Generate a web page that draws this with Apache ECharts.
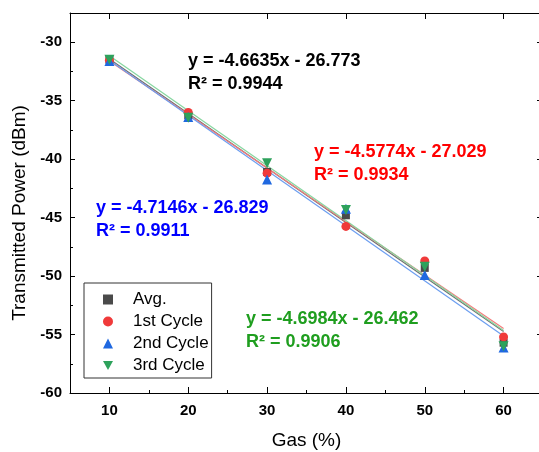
<!DOCTYPE html>
<html>
<head>
<meta charset="utf-8">
<script src="https://cdn.jsdelivr.net/npm/echarts@6/dist/echarts.min.js"></script>
<style>
  html, body { margin: 0; padding: 0; background: #fff; }
  #chart { width: 539px; height: 452px; }
</style>
</head>
<body>
<div id="chart"></div>
<script>
// measured points
const gas = [10, 20, 30, 40, 50, 60];
const avgPower = [-31.5, -36.25, -41.1, -44.8, -49.3, -55.7];
const cycle1Power = [-31.55, -36.0, -41.2, -45.75, -48.7, -55.2];
const cycle2Power = [-31.6, -36.4, -41.75, -44.25, -49.9, -56.1];
const cycle3Power = [-31.5, -36.45, -40.35, -44.35, -49.2, -56.0];

// linear fit end points (at 10 % and 60 %)
const fitGas = [10, 60];
const avgFit = [-31.44, -54.75];
const cycle1Fit = [-31.61, -54.49];
const cycle2Fit = [-31.54, -55.12];
const cycle3Fit = [-31.16, -54.65];

const seriesNames = ['Avg.', '1st Cycle', '2nd Cycle', '3rd Cycle'];
const fitLabels = ['y = -4.6635x - 26.773', 'y = -4.5774x - 27.029', 'y = -4.7146x - 26.829', 'y = -4.6984x - 26.462'];
const r2Labels = ['R² = 0.9944', 'R² = 0.9934', 'R² = 0.9911', 'R² = 0.9906'];

const xTicks = [10, 20, 30, 40, 50, 60];
const xMinorTicks = [15, 25, 35, 45, 55];
const yTicks = [-60, -55, -50, -45, -40, -35, -30];
const yMinorTicks = [-57.5, -52.5, -47.5, -42.5, -37.5, -32.5];

const font = '"Liberation Sans", Arial, sans-serif';
const markerColors = ['#4a4a4a', '#f03a3a', '#1f68e0', '#2ea25c'];
const fitColors = ['#707070', '#f47c7c', '#6c9ef0', '#86d6a0'];
const textColors = ['#000000', '#ff0000', '#0000ff', '#1f9e1f'];
const symbols = ['rect', 'circle', 'triangle', 'path://M0,0L10,0L5,9Z'];
const symbolSizes = [8, 9, 10, 10];

const pairs = (xs, ys) => xs.map((x, i) => [x, ys[i]]);
const pointSets = [avgPower, cycle1Power, cycle2Power, cycle3Power];
const fitSets = [avgFit, cycle1Fit, cycle2Fit, cycle3Fit];

const xRange = { min: 5, max: 65 };
const yRange = { min: -60, max: -27.5 };

const chart = echarts.init(document.getElementById('chart'));

const series = [];
fitSets.forEach((f, i) => {
  series.push({
    name: seriesNames[i] + ' fit',
    type: 'line',
    data: pairs(fitGas, f),
    symbol: 'none',
    silent: true,
    lineStyle: { color: fitColors[i], width: 1.2 },
    z: 1
  });
});
pointSets.forEach((p, i) => {
  series.push({
    name: seriesNames[i],
    type: 'scatter',
    data: pairs(gas, p),
    symbol: symbols[i],
    symbolSize: symbolSizes[i],
    itemStyle: { color: markerColors[i], opacity: 1 },
    z: 3
  });
});

const option = {
  animation: false,
  backgroundColor: '#fff',
  grid: { left: 70, right: -4, top: 13, bottom: 59, outerBoundsMode: 'none', containLabel: false },
  legend: {
    data: seriesNames,
    orient: 'vertical',
    left: 84,
    top: 283,
    padding: [8, 3, 4, 19],
    itemWidth: 10,
    itemHeight: 10,
    itemGap: 5,
    borderColor: '#333',
    borderWidth: 1,
    borderRadius: 0,
    textStyle: { fontFamily: font, fontSize: 17, color: '#000', lineHeight: 17, padding: [0, 0, 0, 15] }
  },
  xAxis: [
    {
      type: 'value', position: 'bottom', ...xRange,
      name: 'Gas (%)', nameLocation: 'middle', nameGap: 38,
      nameTextStyle: { fontFamily: font, fontSize: 19, color: '#000' },
      axisLine: { show: true, onZero: false, lineStyle: { color: '#000', width: 1 } },
      axisTick: { inside: true, length: 6, customValues: xTicks, lineStyle: { color: '#000' } },
      axisLabel: { customValues: xTicks, margin: 10, fontFamily: font, fontSize: 15, fontWeight: 'bold', color: '#000' },
      splitLine: { show: false }
    },
    {
      type: 'value', position: 'bottom', ...xRange,
      axisLine: { show: false },
      axisTick: { inside: true, length: 3, customValues: xMinorTicks, lineStyle: { color: '#000' } },
      axisLabel: { show: false },
      splitLine: { show: false }
    },
    {
      type: 'value', position: 'top', ...xRange,
      axisLine: { show: true, onZero: false, lineStyle: { color: '#000', width: 1 } },
      axisTick: { inside: true, length: 6, customValues: xTicks, lineStyle: { color: '#000' } },
      axisLabel: { show: false },
      splitLine: { show: false }
    }
  ],
  yAxis: [
    {
      type: 'value', position: 'left', ...yRange,
      name: 'Transmitted Power (dBm)', nameLocation: 'middle', nameGap: 38,
      nameTextStyle: { fontFamily: font, fontSize: 19, color: '#000', padding: [0, 20, 0, 0] },
      axisLine: { show: true, onZero: false, lineStyle: { color: '#000', width: 1 } },
      axisTick: { inside: true, length: 5, customValues: yTicks, lineStyle: { color: '#000' } },
      axisLabel: { customValues: yTicks, margin: 8, fontFamily: font, fontSize: 15, fontWeight: 'bold', color: '#000' },
      splitLine: { show: false }
    },
    {
      type: 'value', position: 'left', ...yRange,
      axisLine: { show: false },
      axisTick: { inside: true, length: 3, customValues: yMinorTicks, lineStyle: { color: '#000' } },
      axisLabel: { show: false },
      splitLine: { show: false }
    },
    {
      type: 'value', position: 'right', ...yRange,
      axisLine: { show: true, onZero: false, lineStyle: { color: '#000', width: 1 } },
      axisTick: { inside: true, length: 6, customValues: yTicks, lineStyle: { color: '#000' } },
      axisLabel: { show: false },
      splitLine: { show: false }
    }
  ],
  graphic: [
    { pos: [188, 50] },
    { pos: [314, 141] },
    { pos: [96, 197] },
    { pos: [246, 308] }
  ].map((g, i) => ({
    type: 'text',
    left: g.pos[0],
    top: g.pos[1],
    z: 10,
    style: {
      text: fitLabels[i] + '\n' + r2Labels[i],
      font: 'bold 18px ' + font,
      fill: textColors[i],
      lineHeight: 23
    }
  })),
  series: series
};

chart.setOption(option);
</script>
</body>
</html>
